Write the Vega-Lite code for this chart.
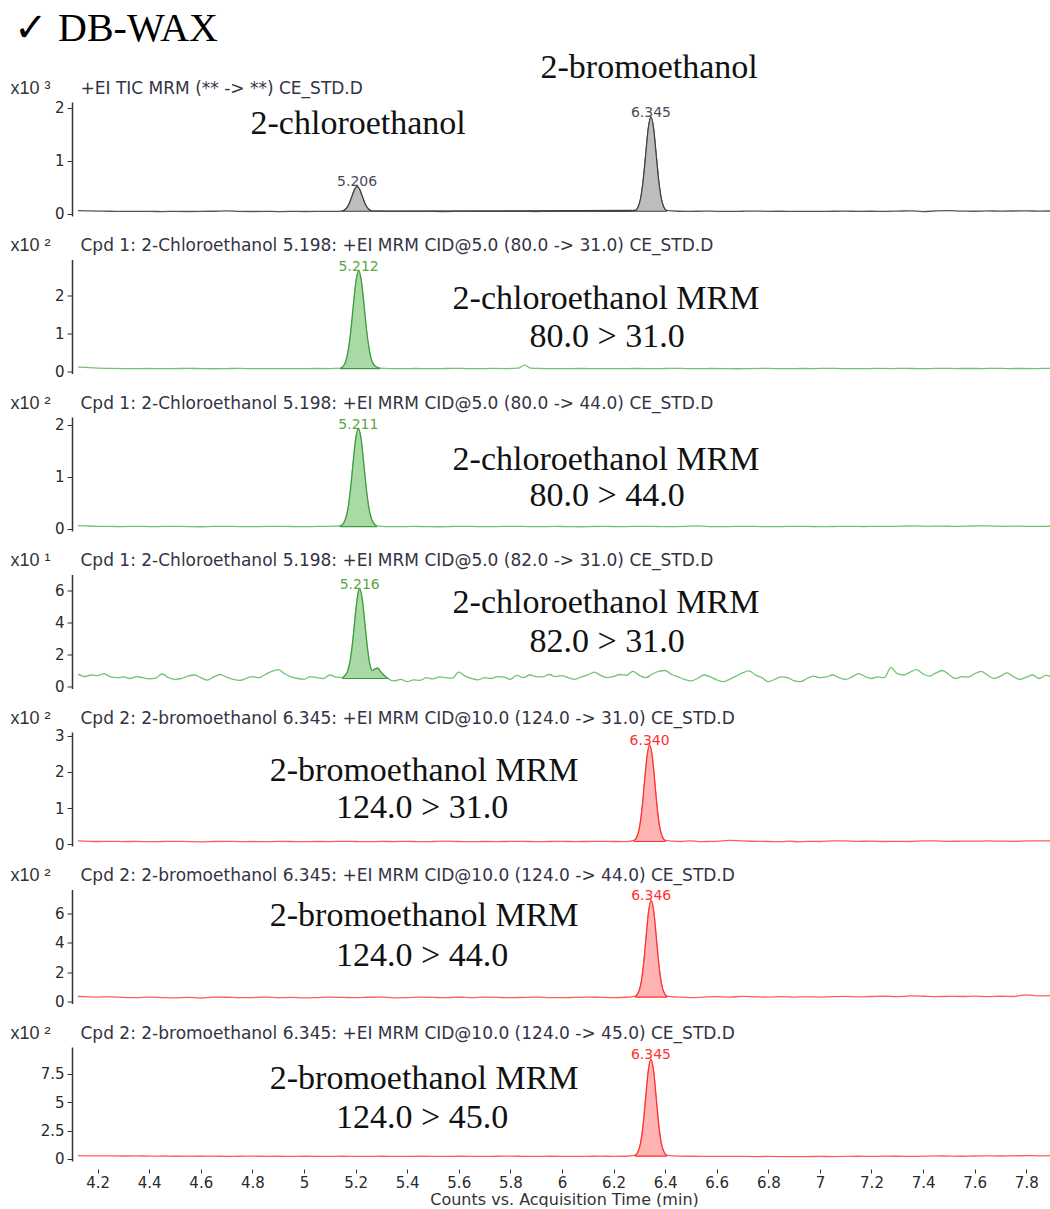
{
"$schema": "https://vega.github.io/schema/vega-lite/v6.json",
"padding": {"left": 10, "top": 8, "right": 0, "bottom": 0},
"title": {"text": "✓ DB-WAX", "anchor": "start", "font": "Liberation Serif", "fontSize": 40, "fontWeight": "normal", "color": "#000000", "dx": 4, "offset": 2},
"config": {"view": {"stroke": null},
 "axis": {"grid": false, "labelFont": "DejaVu Sans", "titleFont": "DejaVu Sans", "labelColor": "#2a2a2a", "titleColor": "#333333", "domainColor": "#333333", "tickColor": "#333333"},
 "axisLeft": {"titleAngle": 0, "titleX": -62, "titleY": -14, "titleAlign": "left", "titleBaseline": "middle", "titleFont": "Liberation Sans", "titleFontSize": 18, "titleFontWeight": "normal", "labelFontSize": 15, "offset": 6, "tickSize": 5, "domainWidth": 1.5, "labelPadding": 3},
 "axisTop": {"labels": false, "ticks": false, "domain": false, "titleX": 2, "titleY": -14, "titleAlign": "left", "titleBaseline": "middle", "titleFontSize": 17, "titleFontWeight": "normal", "titleColor": "#333344"},
 "axisBottom": {"offset": 8, "domain": false, "tickSize": 4, "labelFontSize": 15, "labelPadding": 2, "titleFontSize": 16, "titleFontWeight": "normal", "titlePadding": 1}
},
"spacing": 43.5,
"bounds": "flush",
"datasets": {
"s1": [{"t":4.10,"v":0.062},{"t":4.15,"v":0.058},{"t":4.20,"v":0.052},{"t":4.25,"v":0.05},{"t":4.30,"v":0.047},{"t":4.35,"v":0.049},{"t":4.40,"v":0.046},{"t":4.45,"v":0.044},{"t":4.50,"v":0.047},{"t":4.55,"v":0.045},{"t":4.60,"v":0.046},{"t":4.65,"v":0.05},{"t":4.70,"v":0.058},{"t":4.75,"v":0.048},{"t":4.80,"v":0.045},{"t":4.85,"v":0.047},{"t":4.90,"v":0.044},{"t":4.95,"v":0.046},{"t":5.00,"v":0.045},{"t":5.05,"v":0.047},{"t":5.10,"v":0.048},
{"t":5.146,"v":0.052,"f":1},{"t":5.156,"v":0.07,"f":1},{"t":5.166,"v":0.112,"f":1},{"t":5.176,"v":0.2,"f":1},{"t":5.186,"v":0.33,"f":1},{"t":5.196,"v":0.46,"f":1},{"t":5.206,"v":0.52,"f":1},{"t":5.216,"v":0.46,"f":1},{"t":5.226,"v":0.33,"f":1},{"t":5.236,"v":0.2,"f":1},{"t":5.246,"v":0.112,"f":1},{"t":5.256,"v":0.07,"f":1},{"t":5.266,"v":0.052,"f":1},
{"t":5.30,"v":0.05},{"t":5.35,"v":0.048},{"t":5.40,"v":0.046},{"t":5.45,"v":0.049},{"t":5.50,"v":0.046},{"t":5.55,"v":0.044},{"t":5.60,"v":0.047},{"t":5.65,"v":0.049},{"t":5.70,"v":0.046},{"t":5.75,"v":0.048},{"t":5.80,"v":0.05},{"t":5.85,"v":0.047},{"t":5.90,"v":0.045},{"t":5.95,"v":0.048},{"t":6.00,"v":0.046},{"t":6.05,"v":0.047},{"t":6.10,"v":0.049},{"t":6.15,"v":0.046},{"t":6.20,"v":0.048},{"t":6.25,"v":0.05},
{"t":6.285,"v":0.065,"f":1},{"t":6.295,"v":0.125,"f":1},{"t":6.305,"v":0.29,"f":1},{"t":6.315,"v":0.63,"f":1},{"t":6.325,"v":1.13,"f":1},{"t":6.335,"v":1.62,"f":1},{"t":6.345,"v":1.83,"f":1},{"t":6.355,"v":1.62,"f":1},{"t":6.365,"v":1.13,"f":1},{"t":6.375,"v":0.63,"f":1},{"t":6.385,"v":0.29,"f":1},{"t":6.395,"v":0.125,"f":1},{"t":6.405,"v":0.065,"f":1},
{"t":6.45,"v":0.05},{"t":6.50,"v":0.047},{"t":6.55,"v":0.052},{"t":6.60,"v":0.049},{"t":6.65,"v":0.046},{"t":6.70,"v":0.05},{"t":6.75,"v":0.053},{"t":6.80,"v":0.048},{"t":6.85,"v":0.05},{"t":6.90,"v":0.046},{"t":6.95,"v":0.049},{"t":7.00,"v":0.047},{"t":7.05,"v":0.05},{"t":7.10,"v":0.052},{"t":7.15,"v":0.048},{"t":7.20,"v":0.05},{"t":7.25,"v":0.047},{"t":7.30,"v":0.052},{"t":7.35,"v":0.058},{"t":7.40,"v":0.044},{"t":7.45,"v":0.055},{"t":7.50,"v":0.06},{"t":7.55,"v":0.052},{"t":7.60,"v":0.05},{"t":7.65,"v":0.056},{"t":7.70,"v":0.052},{"t":7.75,"v":0.054},{"t":7.80,"v":0.056},{"t":7.85,"v":0.052},{"t":7.90,"v":0.055}],
"s2": [{"t":4.10,"v":0.13},{"t":4.15,"v":0.11},{"t":4.20,"v":0.09},{"t":4.25,"v":0.085},{"t":4.30,"v":0.08},{"t":4.35,"v":0.078},{"t":4.40,"v":0.082},{"t":4.45,"v":0.076},{"t":4.50,"v":0.08},{"t":4.55,"v":0.085},{"t":4.60,"v":0.078},{"t":4.65,"v":0.075},{"t":4.70,"v":0.08},{"t":4.75,"v":0.083},{"t":4.80,"v":0.078},{"t":4.85,"v":0.08},{"t":4.90,"v":0.076},{"t":4.95,"v":0.08},{"t":5.00,"v":0.078},{"t":5.05,"v":0.082},{"t":5.10,"v":0.08},
{"t":5.142,"v":0.09,"f":1},{"t":5.152,"v":0.14,"f":1},{"t":5.162,"v":0.27,"f":1},{"t":5.172,"v":0.57,"f":1},{"t":5.182,"v":1.09,"f":1},{"t":5.192,"v":1.78,"f":1},{"t":5.202,"v":2.39,"f":1},{"t":5.212,"v":2.65,"f":1},{"t":5.222,"v":2.4,"f":1},{"t":5.232,"v":1.8,"f":1},{"t":5.242,"v":1.12,"f":1},{"t":5.252,"v":0.62,"f":1},{"t":5.262,"v":0.3,"f":1},{"t":5.272,"v":0.17,"f":1},{"t":5.282,"v":0.12,"f":1},{"t":5.292,"v":0.09,"f":1},
{"t":5.33,"v":0.08},{"t":5.38,"v":0.078},{"t":5.43,"v":0.082},{"t":5.48,"v":0.076},{"t":5.53,"v":0.08},{"t":5.58,"v":0.085},{"t":5.63,"v":0.08},{"t":5.68,"v":0.078},{"t":5.73,"v":0.083},{"t":5.78,"v":0.08},{"t":5.83,"v":0.09},{"t":5.855,"v":0.17},{"t":5.88,"v":0.09},{"t":5.93,"v":0.08},{"t":5.98,"v":0.076},{"t":6.03,"v":0.08},{"t":6.08,"v":0.082},{"t":6.13,"v":0.078},{"t":6.18,"v":0.08},{"t":6.23,"v":0.076},{"t":6.28,"v":0.082},{"t":6.33,"v":0.08},{"t":6.38,"v":0.078},{"t":6.43,"v":0.085},{"t":6.48,"v":0.08},{"t":6.53,"v":0.077},{"t":6.58,"v":0.082},{"t":6.63,"v":0.08},{"t":6.68,"v":0.075},{"t":6.73,"v":0.08},{"t":6.78,"v":0.083},{"t":6.83,"v":0.08},{"t":6.88,"v":0.078},{"t":6.93,"v":0.082},{"t":6.98,"v":0.08},{"t":7.03,"v":0.085},{"t":7.08,"v":0.08},{"t":7.13,"v":0.078},{"t":7.18,"v":0.08},{"t":7.23,"v":0.083},{"t":7.28,"v":0.08},{"t":7.33,"v":0.085},{"t":7.38,"v":0.078},{"t":7.43,"v":0.08},{"t":7.48,"v":0.086},{"t":7.53,"v":0.08},{"t":7.58,"v":0.082},{"t":7.63,"v":0.08},{"t":7.68,"v":0.085},{"t":7.73,"v":0.08},{"t":7.78,"v":0.082},{"t":7.83,"v":0.08},{"t":7.88,"v":0.083},{"t":7.92,"v":0.08}],
"s3": [{"t":4.10,"v":0.07},{"t":4.15,"v":0.06},{"t":4.20,"v":0.05},{"t":4.25,"v":0.048},{"t":4.30,"v":0.045},{"t":4.35,"v":0.05},{"t":4.40,"v":0.044},{"t":4.45,"v":0.047},{"t":4.50,"v":0.05},{"t":4.55,"v":0.045},{"t":4.60,"v":0.042},{"t":4.65,"v":0.048},{"t":4.70,"v":0.05},{"t":4.75,"v":0.045},{"t":4.80,"v":0.043},{"t":4.85,"v":0.048},{"t":4.90,"v":0.05},{"t":4.95,"v":0.046},{"t":5.00,"v":0.044},{"t":5.05,"v":0.047},{"t":5.10,"v":0.05},
{"t":5.141,"v":0.06,"f":1},{"t":5.151,"v":0.09,"f":1},{"t":5.161,"v":0.19,"f":1},{"t":5.171,"v":0.4,"f":1},{"t":5.181,"v":0.79,"f":1},{"t":5.191,"v":1.29,"f":1},{"t":5.201,"v":1.74,"f":1},{"t":5.211,"v":1.92,"f":1},{"t":5.221,"v":1.74,"f":1},{"t":5.231,"v":1.29,"f":1},{"t":5.241,"v":0.8,"f":1},{"t":5.251,"v":0.42,"f":1},{"t":5.261,"v":0.2,"f":1},{"t":5.271,"v":0.1,"f":1},{"t":5.281,"v":0.06,"f":1},
{"t":5.32,"v":0.045},{"t":5.37,"v":0.043},{"t":5.42,"v":0.048},{"t":5.47,"v":0.045},{"t":5.52,"v":0.042},{"t":5.57,"v":0.046},{"t":5.62,"v":0.05},{"t":5.67,"v":0.045},{"t":5.72,"v":0.043},{"t":5.77,"v":0.047},{"t":5.82,"v":0.05},{"t":5.87,"v":0.045},{"t":5.92,"v":0.043},{"t":5.97,"v":0.048},{"t":6.02,"v":0.045},{"t":6.07,"v":0.042},{"t":6.12,"v":0.046},{"t":6.17,"v":0.048},{"t":6.22,"v":0.044},{"t":6.27,"v":0.047},{"t":6.32,"v":0.05},{"t":6.37,"v":0.046},{"t":6.42,"v":0.043},{"t":6.47,"v":0.048},{"t":6.52,"v":0.06},{"t":6.57,"v":0.045},{"t":6.62,"v":0.043},{"t":6.67,"v":0.047},{"t":6.72,"v":0.05},{"t":6.77,"v":0.045},{"t":6.82,"v":0.043},{"t":6.87,"v":0.048},{"t":6.92,"v":0.05},{"t":6.97,"v":0.046},{"t":7.02,"v":0.044},{"t":7.07,"v":0.048},{"t":7.12,"v":0.05},{"t":7.17,"v":0.046},{"t":7.22,"v":0.05},{"t":7.27,"v":0.048},{"t":7.32,"v":0.052},{"t":7.37,"v":0.06},{"t":7.42,"v":0.05},{"t":7.47,"v":0.055},{"t":7.52,"v":0.048},{"t":7.57,"v":0.052},{"t":7.62,"v":0.06},{"t":7.67,"v":0.055},{"t":7.72,"v":0.05},{"t":7.77,"v":0.052},{"t":7.82,"v":0.048},{"t":7.87,"v":0.05},{"t":7.92,"v":0.052}],
"s4": [{"t":4.100,"v":0.7},{"t":4.125,"v":0.75},{"t":4.150,"v":0.62},{"t":4.175,"v":0.72},{"t":4.200,"v":0.68},{"t":4.225,"v":0.8},{"t":4.250,"v":0.6},{"t":4.275,"v":0.55},{"t":4.300,"v":0.6},{"t":4.325,"v":0.5},{"t":4.350,"v":0.62},{"t":4.375,"v":0.55},{"t":4.400,"v":0.48},{"t":4.425,"v":0.52},{"t":4.450,"v":0.78},{"t":4.475,"v":0.55},{"t":4.500,"v":0.45},{"t":4.525,"v":0.5},{"t":4.550,"v":0.65},{"t":4.575,"v":0.72},{"t":4.600,"v":0.55},{"t":4.625,"v":0.4},{"t":4.650,"v":0.6},{"t":4.675,"v":0.75},{"t":4.700,"v":0.58},{"t":4.725,"v":0.45},{"t":4.750,"v":0.38},{"t":4.775,"v":0.5},{"t":4.800,"v":0.62},{"t":4.825,"v":0.55},{"t":4.850,"v":0.75},{"t":4.875,"v":0.95},{"t":4.900,"v":1.05},{"t":4.925,"v":0.8},{"t":4.950,"v":0.6},{"t":4.975,"v":0.5},{"t":5.000,"v":0.45},{"t":5.025,"v":0.62},{"t":5.050,"v":0.55},{"t":5.075,"v":0.5},{"t":5.100,"v":0.72},{"t":5.125,"v":0.58},
{"t":5.150,"v":0.55,"f":1},{"t":5.160,"v":0.71,"f":1},{"t":5.170,"v":0.99,"f":1},{"t":5.180,"v":1.69,"f":1},{"t":5.190,"v":2.96,"f":1},{"t":5.200,"v":4.59,"f":1},{"t":5.210,"v":5.86,"f":1},{"t":5.216,"v":6.1,"f":1},{"t":5.226,"v":5.45,"f":1},{"t":5.236,"v":3.94,"f":1},{"t":5.246,"v":2.39,"f":1},{"t":5.256,"v":1.34,"f":1},{"t":5.266,"v":1.0,"f":1},{"t":5.276,"v":1.1,"f":1},{"t":5.286,"v":1.15,"f":1},{"t":5.296,"v":0.95,"f":1},{"t":5.310,"v":0.7,"f":1},{"t":5.325,"v":0.5,"f":1},
{"t":5.350,"v":0.35},{"t":5.375,"v":0.45},{"t":5.400,"v":0.3},{"t":5.425,"v":0.42},{"t":5.450,"v":0.38},{"t":5.475,"v":0.55},{"t":5.500,"v":0.48},{"t":5.525,"v":0.6},{"t":5.550,"v":0.55},{"t":5.575,"v":0.52},{"t":5.600,"v":0.9},{"t":5.625,"v":0.65},{"t":5.650,"v":0.5},{"t":5.675,"v":0.42},{"t":5.700,"v":0.55},{"t":5.725,"v":0.5},{"t":5.750,"v":0.62},{"t":5.775,"v":0.58},{"t":5.800,"v":0.45},{"t":5.825,"v":0.7},{"t":5.850,"v":0.55},{"t":5.875,"v":0.72},{"t":5.900,"v":0.62},{"t":5.925,"v":0.6},{"t":5.950,"v":0.75},{"t":5.975,"v":0.62},{"t":6.000,"v":0.68},{"t":6.025,"v":0.55},{"t":6.050,"v":0.45},{"t":6.075,"v":0.6},{"t":6.100,"v":0.72},{"t":6.125,"v":0.9},{"t":6.150,"v":0.7},{"t":6.175,"v":0.55},{"t":6.200,"v":0.62},{"t":6.225,"v":0.75},{"t":6.250,"v":0.7},{"t":6.275,"v":0.95},{"t":6.300,"v":0.7},{"t":6.325,"v":0.55},{"t":6.350,"v":0.78},{"t":6.375,"v":0.95},{"t":6.400,"v":1.0},{"t":6.425,"v":0.75},{"t":6.450,"v":0.6},{"t":6.475,"v":0.45},{"t":6.500,"v":0.35},{"t":6.525,"v":0.5},{"t":6.550,"v":0.72},{"t":6.575,"v":0.6},{"t":6.600,"v":0.42},{"t":6.625,"v":0.3},{"t":6.650,"v":0.45},{"t":6.675,"v":0.65},{"t":6.700,"v":0.85},{"t":6.725,"v":0.98},{"t":6.750,"v":0.72},{"t":6.775,"v":0.55},{"t":6.800,"v":0.3},{"t":6.825,"v":0.45},{"t":6.850,"v":0.6},{"t":6.875,"v":0.55},{"t":6.900,"v":0.35},{"t":6.925,"v":0.3},{"t":6.950,"v":0.5},{"t":6.975,"v":0.65},{"t":7.000,"v":0.55},{"t":7.025,"v":0.6},{"t":7.050,"v":0.72},{"t":7.075,"v":0.55},{"t":7.100,"v":0.45},{"t":7.125,"v":0.6},{"t":7.150,"v":0.8},{"t":7.175,"v":0.62},{"t":7.200,"v":0.5},{"t":7.225,"v":0.6},{"t":7.250,"v":0.55},{"t":7.275,"v":1.2},{"t":7.300,"v":0.8},{"t":7.325,"v":0.72},{"t":7.350,"v":0.9},{"t":7.375,"v":1.05},{"t":7.400,"v":0.78},{"t":7.425,"v":0.65},{"t":7.450,"v":0.85},{"t":7.475,"v":1.0},{"t":7.500,"v":0.75},{"t":7.525,"v":0.5},{"t":7.550,"v":0.62},{"t":7.575,"v":0.58},{"t":7.600,"v":0.8},{"t":7.625,"v":0.95},{"t":7.650,"v":0.7},{"t":7.675,"v":0.5},{"t":7.700,"v":0.65},{"t":7.725,"v":0.85},{"t":7.750,"v":0.62},{"t":7.775,"v":0.45},{"t":7.800,"v":0.58},{"t":7.825,"v":0.72},{"t":7.850,"v":0.5},{"t":7.875,"v":0.7},{"t":7.900,"v":0.62}],
"s5": [{"t":4.10,"v":0.09},{"t":4.15,"v":0.08},{"t":4.20,"v":0.07},{"t":4.25,"v":0.075},{"t":4.30,"v":0.068},{"t":4.35,"v":0.072},{"t":4.40,"v":0.065},{"t":4.45,"v":0.07},{"t":4.50,"v":0.075},{"t":4.55,"v":0.068},{"t":4.60,"v":0.062},{"t":4.65,"v":0.07},{"t":4.70,"v":0.074},{"t":4.75,"v":0.068},{"t":4.80,"v":0.07},{"t":4.85,"v":0.065},{"t":4.90,"v":0.072},{"t":4.95,"v":0.07},{"t":5.00,"v":0.066},{"t":5.05,"v":0.07},{"t":5.10,"v":0.068},{"t":5.15,"v":0.075},{"t":5.20,"v":0.07},{"t":5.25,"v":0.066},{"t":5.30,"v":0.072},{"t":5.35,"v":0.068},{"t":5.40,"v":0.075},{"t":5.45,"v":0.065},{"t":5.50,"v":0.07},{"t":5.55,"v":0.078},{"t":5.60,"v":0.07},{"t":5.65,"v":0.065},{"t":5.70,"v":0.07},{"t":5.75,"v":0.068},{"t":5.80,"v":0.072},{"t":5.85,"v":0.075},{"t":5.90,"v":0.066},{"t":5.95,"v":0.07},{"t":6.00,"v":0.072},{"t":6.05,"v":0.068},{"t":6.10,"v":0.07},{"t":6.15,"v":0.075},{"t":6.20,"v":0.07},{"t":6.25,"v":0.068},
{"t":6.28,"v":0.1,"f":1},{"t":6.29,"v":0.19,"f":1},{"t":6.30,"v":0.43,"f":1},{"t":6.31,"v":0.94,"f":1},{"t":6.32,"v":1.7,"f":1},{"t":6.33,"v":2.43,"f":1},{"t":6.34,"v":2.75,"f":1},{"t":6.35,"v":2.43,"f":1},{"t":6.36,"v":1.7,"f":1},{"t":6.37,"v":0.94,"f":1},{"t":6.38,"v":0.43,"f":1},{"t":6.39,"v":0.19,"f":1},{"t":6.40,"v":0.1,"f":1},
{"t":6.43,"v":0.08},{"t":6.46,"v":0.07},{"t":6.50,"v":0.09},{"t":6.53,"v":0.065},{"t":6.56,"v":0.07},{"t":6.60,"v":0.075},{"t":6.65,"v":0.1},{"t":6.70,"v":0.085},{"t":6.75,"v":0.075},{"t":6.80,"v":0.07},{"t":6.85,"v":0.065},{"t":6.88,"v":0.08},{"t":6.92,"v":0.06},{"t":6.95,"v":0.075},{"t":7.00,"v":0.07},{"t":7.05,"v":0.09},{"t":7.10,"v":0.085},{"t":7.15,"v":0.075},{"t":7.20,"v":0.08},{"t":7.25,"v":0.07},{"t":7.30,"v":0.075},{"t":7.35,"v":0.07},{"t":7.40,"v":0.09},{"t":7.45,"v":0.085},{"t":7.50,"v":0.075},{"t":7.55,"v":0.08},{"t":7.60,"v":0.078},{"t":7.65,"v":0.085},{"t":7.70,"v":0.08},{"t":7.75,"v":0.075},{"t":7.80,"v":0.085},{"t":7.85,"v":0.09},{"t":7.90,"v":0.085}],
"s6": [{"t":4.10,"v":0.35},{"t":4.15,"v":0.33},{"t":4.20,"v":0.3},{"t":4.25,"v":0.32},{"t":4.30,"v":0.28},{"t":4.35,"v":0.26},{"t":4.40,"v":0.3},{"t":4.45,"v":0.27},{"t":4.50,"v":0.25},{"t":4.55,"v":0.28},{"t":4.60,"v":0.24},{"t":4.65,"v":0.3},{"t":4.70,"v":0.29},{"t":4.75,"v":0.26},{"t":4.80,"v":0.27},{"t":4.85,"v":0.3},{"t":4.90,"v":0.26},{"t":4.95,"v":0.28},{"t":5.00,"v":0.25},{"t":5.05,"v":0.27},{"t":5.10,"v":0.3},{"t":5.15,"v":0.28},{"t":5.20,"v":0.26},{"t":5.25,"v":0.29},{"t":5.30,"v":0.3},{"t":5.35,"v":0.25},{"t":5.40,"v":0.27},{"t":5.45,"v":0.3},{"t":5.50,"v":0.28},{"t":5.55,"v":0.26},{"t":5.60,"v":0.29},{"t":5.65,"v":0.27},{"t":5.70,"v":0.3},{"t":5.75,"v":0.28},{"t":5.80,"v":0.26},{"t":5.85,"v":0.28},{"t":5.90,"v":0.3},{"t":5.95,"v":0.27},{"t":6.00,"v":0.26},{"t":6.05,"v":0.28},{"t":6.10,"v":0.3},{"t":6.15,"v":0.28},{"t":6.20,"v":0.27},{"t":6.25,"v":0.29},
{"t":6.286,"v":0.37,"f":1},{"t":6.296,"v":0.59,"f":1},{"t":6.306,"v":1.19,"f":1},{"t":6.316,"v":2.45,"f":1},{"t":6.326,"v":4.3,"f":1},{"t":6.336,"v":6.12,"f":1},{"t":6.346,"v":6.9,"f":1},{"t":6.356,"v":6.12,"f":1},{"t":6.366,"v":4.3,"f":1},{"t":6.376,"v":2.45,"f":1},{"t":6.386,"v":1.19,"f":1},{"t":6.396,"v":0.59,"f":1},{"t":6.406,"v":0.37,"f":1},
{"t":6.45,"v":0.3},{"t":6.50,"v":0.27},{"t":6.55,"v":0.3},{"t":6.60,"v":0.33},{"t":6.65,"v":0.3},{"t":6.70,"v":0.35},{"t":6.75,"v":0.32},{"t":6.80,"v":0.3},{"t":6.85,"v":0.33},{"t":6.90,"v":0.3},{"t":6.95,"v":0.32},{"t":7.00,"v":0.3},{"t":7.05,"v":0.33},{"t":7.10,"v":0.35},{"t":7.15,"v":0.32},{"t":7.20,"v":0.34},{"t":7.25,"v":0.36},{"t":7.30,"v":0.33},{"t":7.35,"v":0.38},{"t":7.40,"v":0.36},{"t":7.45,"v":0.33},{"t":7.50,"v":0.35},{"t":7.55,"v":0.34},{"t":7.60,"v":0.37},{"t":7.65,"v":0.33},{"t":7.70,"v":0.36},{"t":7.75,"v":0.34},{"t":7.80,"v":0.45},{"t":7.85,"v":0.38},{"t":7.90,"v":0.4}],
"s7": [{"t":4.10,"v":0.3},{"t":4.15,"v":0.28},{"t":4.20,"v":0.27},{"t":4.25,"v":0.28},{"t":4.30,"v":0.26},{"t":4.35,"v":0.27},{"t":4.40,"v":0.25},{"t":4.45,"v":0.26},{"t":4.50,"v":0.24},{"t":4.55,"v":0.25},{"t":4.60,"v":0.24},{"t":4.65,"v":0.25},{"t":4.70,"v":0.23},{"t":4.75,"v":0.24},{"t":4.80,"v":0.25},{"t":4.85,"v":0.23},{"t":4.90,"v":0.24},{"t":4.95,"v":0.22},{"t":5.00,"v":0.24},{"t":5.05,"v":0.23},{"t":5.10,"v":0.22},{"t":5.15,"v":0.24},{"t":5.20,"v":0.23},{"t":5.25,"v":0.22},{"t":5.30,"v":0.24},{"t":5.35,"v":0.23},{"t":5.40,"v":0.22},{"t":5.45,"v":0.24},{"t":5.50,"v":0.23},{"t":5.55,"v":0.22},{"t":5.60,"v":0.24},{"t":5.65,"v":0.23},{"t":5.70,"v":0.22},{"t":5.75,"v":0.24},{"t":5.80,"v":0.25},{"t":5.85,"v":0.23},{"t":5.90,"v":0.22},{"t":5.95,"v":0.24},{"t":6.00,"v":0.23},{"t":6.05,"v":0.22},{"t":6.10,"v":0.23},{"t":6.15,"v":0.25},{"t":6.20,"v":0.23},{"t":6.25,"v":0.24},
{"t":6.285,"v":0.34,"f":1},{"t":6.295,"v":0.63,"f":1},{"t":6.305,"v":1.4,"f":1},{"t":6.315,"v":3.03,"f":1},{"t":6.325,"v":5.44,"f":1},{"t":6.335,"v":7.79,"f":1},{"t":6.345,"v":8.8,"f":1},{"t":6.355,"v":7.79,"f":1},{"t":6.365,"v":5.44,"f":1},{"t":6.375,"v":3.03,"f":1},{"t":6.385,"v":1.4,"f":1},{"t":6.395,"v":0.63,"f":1},{"t":6.405,"v":0.34,"f":1},
{"t":6.45,"v":0.25},{"t":6.50,"v":0.24},{"t":6.55,"v":0.23},{"t":6.60,"v":0.22},{"t":6.65,"v":0.23},{"t":6.70,"v":0.22},{"t":6.75,"v":0.21},{"t":6.80,"v":0.22},{"t":6.85,"v":0.21},{"t":6.90,"v":0.2},{"t":6.95,"v":0.21},{"t":7.00,"v":0.22},{"t":7.05,"v":0.21},{"t":7.10,"v":0.22},{"t":7.15,"v":0.24},{"t":7.20,"v":0.22},{"t":7.25,"v":0.25},{"t":7.30,"v":0.24},{"t":7.35,"v":0.22},{"t":7.40,"v":0.25},{"t":7.45,"v":0.27},{"t":7.50,"v":0.25},{"t":7.55,"v":0.24},{"t":7.60,"v":0.26},{"t":7.65,"v":0.28},{"t":7.70,"v":0.26},{"t":7.75,"v":0.27},{"t":7.80,"v":0.3},{"t":7.85,"v":0.28},{"t":7.90,"v":0.3}],
"pl": [{"p":1,"t":5.206,"v":0.52,"label":"5.206"},{"p":1,"t":6.345,"v":1.83,"label":"6.345"},{"p":2,"t":5.212,"v":2.65,"label":"5.212"},{"p":3,"t":5.211,"v":1.92,"label":"5.211"},{"p":4,"t":5.216,"v":6.1,"label":"5.216"},{"p":5,"t":6.34,"v":2.75,"label":"6.340"},{"p":6,"t":6.346,"v":6.9,"label":"6.346"},{"p":7,"t":6.345,"v":8.8,"label":"6.345"}],
"ann": [{"p":1,"t":6.338,"v":2.755,"label":"2-bromoethanol"},{"p":1,"t":5.21,"v":1.7,"label":"2-chloroethanol"},
{"p":2,"t":6.171,"v":1.92,"label":"2-chloroethanol MRM"},{"p":2,"t":6.175,"v":0.92,"label":"80.0 > 31.0"},
{"p":3,"t":6.171,"v":1.33,"label":"2-chloroethanol MRM"},{"p":3,"t":6.175,"v":0.63,"label":"80.0 > 44.0"},
{"p":4,"t":6.171,"v":5.25,"label":"2-chloroethanol MRM"},{"p":4,"t":6.175,"v":2.81,"label":"82.0 > 31.0"},
{"p":5,"t":5.466,"v":2.03,"label":"2-bromoethanol MRM"},{"p":5,"t":5.458,"v":1.0,"label":"124.0 > 31.0"},
{"p":6,"t":5.466,"v":5.86,"label":"2-bromoethanol MRM"},{"p":6,"t":5.458,"v":3.07,"label":"124.0 > 44.0"},
{"p":7,"t":5.466,"v":7.06,"label":"2-bromoethanol MRM"},{"p":7,"t":5.458,"v":3.62,"label":"124.0 > 45.0"}]
},
"vconcat": [
{"width":972,"height":114,"resolve":{"axis":{"x":"independent","y":"independent"}},"layer":[
 {"data":{"name":"s1"},"mark":{"type":"line","color":"#555555","strokeWidth":1.3,"interpolate":"monotone","clip":true},
  "encoding":{"x":{"field":"t","type":"quantitative","scale":{"domain":[4.124,7.892],"nice":false,"zero":false},"axis":null},
   "y":{"field":"v","type":"quantitative","scale":{"domain":[-0.04,2.11],"nice":false,"zero":false},"axis":{"title":"x10 ³","values":[0,1,2],"format":"~g"}}}},
 {"data":{"name":"s1"},"transform":[{"filter":"datum.f==1"}],"mark":{"type":"area","fill":"#bdbdbd","stroke":"#404040","strokeWidth":1.2,"interpolate":"monotone","clip":true},
  "encoding":{"x":{"field":"t","type":"quantitative","scale":{"domain":[4.124,7.892],"nice":false,"zero":false},"axis":null},
   "y":{"field":"v","type":"quantitative","scale":{"domain":[-0.04,2.11],"nice":false,"zero":false},"axis":null},"y2":{"datum":0.05}}},
 {"data":{"name":"pl"},"transform":[{"filter":"datum.p==1"}],"mark":{"type":"text","font":"DejaVu Sans","fontSize":14,"color":"#4a4a5a","baseline":"bottom","dy":3},
  "encoding":{"x":{"field":"t","type":"quantitative","scale":{"domain":[4.124,7.892],"nice":false,"zero":false},"axis":null},
   "y":{"field":"v","type":"quantitative","scale":{"domain":[-0.04,2.11],"nice":false,"zero":false},"axis":null},"text":{"field":"label"}}},
 {"data":{"name":"ann"},"transform":[{"filter":"datum.p==1"}],"mark":{"type":"text","font":"Liberation Serif","fontSize":34,"color":"#111111"},
  "encoding":{"x":{"field":"t","type":"quantitative","scale":{"domain":[4.124,7.892],"nice":false,"zero":false},"axis":{"orient":"top","title":"+EI TIC MRM (** -> **) CE_STD.D"}},
   "y":{"field":"v","type":"quantitative","scale":{"domain":[-0.04,2.11],"nice":false,"zero":false},"axis":null},"text":{"field":"label"}}}
]},
{"width":972,"height":114,"resolve":{"axis":{"x":"independent","y":"independent"}},"layer":[
 {"data":{"name":"s2"},"mark":{"type":"line","color":"#72c472","strokeWidth":1.3,"interpolate":"monotone","clip":true},
  "encoding":{"x":{"field":"t","type":"quantitative","scale":{"domain":[4.124,7.892],"nice":false,"zero":false},"axis":null},
   "y":{"field":"v","type":"quantitative","scale":{"domain":[-0.05,2.95],"nice":false,"zero":false},"axis":{"title":"x10 ²","values":[0,1,2],"format":"~g"}}}},
 {"data":{"name":"s2"},"transform":[{"filter":"datum.f==1"}],"mark":{"type":"area","fill":"#a9d9a4","stroke":"#3c9a3c","strokeWidth":1.2,"interpolate":"monotone","clip":true},
  "encoding":{"x":{"field":"t","type":"quantitative","scale":{"domain":[4.124,7.892],"nice":false,"zero":false},"axis":null},
   "y":{"field":"v","type":"quantitative","scale":{"domain":[-0.05,2.95],"nice":false,"zero":false},"axis":null},"y2":{"datum":0.08}}},
 {"data":{"name":"pl"},"transform":[{"filter":"datum.p==2"}],"mark":{"type":"text","font":"DejaVu Sans","fontSize":14,"color":"#5aa83a","baseline":"bottom","dy":3},
  "encoding":{"x":{"field":"t","type":"quantitative","scale":{"domain":[4.124,7.892],"nice":false,"zero":false},"axis":null},
   "y":{"field":"v","type":"quantitative","scale":{"domain":[-0.05,2.95],"nice":false,"zero":false},"axis":null},"text":{"field":"label"}}},
 {"data":{"name":"ann"},"transform":[{"filter":"datum.p==2"}],"mark":{"type":"text","font":"Liberation Serif","fontSize":34,"color":"#111111"},
  "encoding":{"x":{"field":"t","type":"quantitative","scale":{"domain":[4.124,7.892],"nice":false,"zero":false},"axis":{"orient":"top","title":"Cpd 1: 2-Chloroethanol 5.198: +EI MRM CID@5.0 (80.0 -> 31.0) CE_STD.D"}},
   "y":{"field":"v","type":"quantitative","scale":{"domain":[-0.05,2.95],"nice":false,"zero":false},"axis":null},"text":{"field":"label"}}}
]},
{"width":972,"height":114,"resolve":{"axis":{"x":"independent","y":"independent"}},"layer":[
 {"data":{"name":"s3"},"mark":{"type":"line","color":"#72c472","strokeWidth":1.3,"interpolate":"monotone","clip":true},
  "encoding":{"x":{"field":"t","type":"quantitative","scale":{"domain":[4.124,7.892],"nice":false,"zero":false},"axis":null},
   "y":{"field":"v","type":"quantitative","scale":{"domain":[-0.04,2.15],"nice":false,"zero":false},"axis":{"title":"x10 ²","values":[0,1,2],"format":"~g"}}}},
 {"data":{"name":"s3"},"transform":[{"filter":"datum.f==1"}],"mark":{"type":"area","fill":"#a9d9a4","stroke":"#3c9a3c","strokeWidth":1.2,"interpolate":"monotone","clip":true},
  "encoding":{"x":{"field":"t","type":"quantitative","scale":{"domain":[4.124,7.892],"nice":false,"zero":false},"axis":null},
   "y":{"field":"v","type":"quantitative","scale":{"domain":[-0.04,2.15],"nice":false,"zero":false},"axis":null},"y2":{"datum":0.045}}},
 {"data":{"name":"pl"},"transform":[{"filter":"datum.p==3"}],"mark":{"type":"text","font":"DejaVu Sans","fontSize":14,"color":"#5aa83a","baseline":"bottom","dy":3},
  "encoding":{"x":{"field":"t","type":"quantitative","scale":{"domain":[4.124,7.892],"nice":false,"zero":false},"axis":null},
   "y":{"field":"v","type":"quantitative","scale":{"domain":[-0.04,2.15],"nice":false,"zero":false},"axis":null},"text":{"field":"label"}}},
 {"data":{"name":"ann"},"transform":[{"filter":"datum.p==3"}],"mark":{"type":"text","font":"Liberation Serif","fontSize":34,"color":"#111111"},
  "encoding":{"x":{"field":"t","type":"quantitative","scale":{"domain":[4.124,7.892],"nice":false,"zero":false},"axis":{"orient":"top","title":"Cpd 1: 2-Chloroethanol 5.198: +EI MRM CID@5.0 (80.0 -> 44.0) CE_STD.D"}},
   "y":{"field":"v","type":"quantitative","scale":{"domain":[-0.04,2.15],"nice":false,"zero":false},"axis":null},"text":{"field":"label"}}}
]},
{"width":972,"height":114,"resolve":{"axis":{"x":"independent","y":"independent"}},"layer":[
 {"data":{"name":"s4"},"mark":{"type":"line","color":"#72c472","strokeWidth":1.3,"interpolate":"monotone","clip":true},
  "encoding":{"x":{"field":"t","type":"quantitative","scale":{"domain":[4.124,7.892],"nice":false,"zero":false},"axis":null},
   "y":{"field":"v","type":"quantitative","scale":{"domain":[-0.125,7.0],"nice":false,"zero":false},"axis":{"title":"x10 ¹","values":[0,2,4,6],"format":"~g"}}}},
 {"data":{"name":"s4"},"transform":[{"filter":"datum.f==1"}],"mark":{"type":"area","fill":"#a9d9a4","stroke":"#3c9a3c","strokeWidth":1.2,"interpolate":"monotone","clip":true},
  "encoding":{"x":{"field":"t","type":"quantitative","scale":{"domain":[4.124,7.892],"nice":false,"zero":false},"axis":null},
   "y":{"field":"v","type":"quantitative","scale":{"domain":[-0.125,7.0],"nice":false,"zero":false},"axis":null},"y2":{"datum":0.5}}},
 {"data":{"name":"pl"},"transform":[{"filter":"datum.p==4"}],"mark":{"type":"text","font":"DejaVu Sans","fontSize":14,"color":"#5aa83a","baseline":"bottom","dy":3},
  "encoding":{"x":{"field":"t","type":"quantitative","scale":{"domain":[4.124,7.892],"nice":false,"zero":false},"axis":null},
   "y":{"field":"v","type":"quantitative","scale":{"domain":[-0.125,7.0],"nice":false,"zero":false},"axis":null},"text":{"field":"label"}}},
 {"data":{"name":"ann"},"transform":[{"filter":"datum.p==4"}],"mark":{"type":"text","font":"Liberation Serif","fontSize":34,"color":"#111111"},
  "encoding":{"x":{"field":"t","type":"quantitative","scale":{"domain":[4.124,7.892],"nice":false,"zero":false},"axis":{"orient":"top","title":"Cpd 1: 2-Chloroethanol 5.198: +EI MRM CID@5.0 (82.0 -> 31.0) CE_STD.D"}},
   "y":{"field":"v","type":"quantitative","scale":{"domain":[-0.125,7.0],"nice":false,"zero":false},"axis":null},"text":{"field":"label"}}}
]},
{"width":972,"height":114,"resolve":{"axis":{"x":"independent","y":"independent"}},"layer":[
 {"data":{"name":"s5"},"mark":{"type":"line","color":"#ff5c5c","strokeWidth":1.3,"interpolate":"monotone","clip":true},
  "encoding":{"x":{"field":"t","type":"quantitative","scale":{"domain":[4.124,7.892],"nice":false,"zero":false},"axis":null},
   "y":{"field":"v","type":"quantitative","scale":{"domain":[-0.055,3.11],"nice":false,"zero":false},"axis":{"title":"x10 ²","values":[0,1,2,3],"format":"~g"}}}},
 {"data":{"name":"s5"},"transform":[{"filter":"datum.f==1"}],"mark":{"type":"area","fill":"#ffb3b3","stroke":"#ff3030","strokeWidth":1.2,"interpolate":"monotone","clip":true},
  "encoding":{"x":{"field":"t","type":"quantitative","scale":{"domain":[4.124,7.892],"nice":false,"zero":false},"axis":null},
   "y":{"field":"v","type":"quantitative","scale":{"domain":[-0.055,3.11],"nice":false,"zero":false},"axis":null},"y2":{"datum":0.07}}},
 {"data":{"name":"pl"},"transform":[{"filter":"datum.p==5"}],"mark":{"type":"text","font":"DejaVu Sans","fontSize":14,"color":"#ff3030","baseline":"bottom","dy":3},
  "encoding":{"x":{"field":"t","type":"quantitative","scale":{"domain":[4.124,7.892],"nice":false,"zero":false},"axis":null},
   "y":{"field":"v","type":"quantitative","scale":{"domain":[-0.055,3.11],"nice":false,"zero":false},"axis":null},"text":{"field":"label"}}},
 {"data":{"name":"ann"},"transform":[{"filter":"datum.p==5"}],"mark":{"type":"text","font":"Liberation Serif","fontSize":34,"color":"#111111"},
  "encoding":{"x":{"field":"t","type":"quantitative","scale":{"domain":[4.124,7.892],"nice":false,"zero":false},"axis":{"orient":"top","title":"Cpd 2: 2-bromoethanol 6.345: +EI MRM CID@10.0 (124.0 -> 31.0) CE_STD.D"}},
   "y":{"field":"v","type":"quantitative","scale":{"domain":[-0.055,3.11],"nice":false,"zero":false},"axis":null},"text":{"field":"label"}}}
]},
{"width":972,"height":114,"resolve":{"axis":{"x":"independent","y":"independent"}},"layer":[
 {"data":{"name":"s6"},"mark":{"type":"line","color":"#ff5c5c","strokeWidth":1.3,"interpolate":"monotone","clip":true},
  "encoding":{"x":{"field":"t","type":"quantitative","scale":{"domain":[4.124,7.892],"nice":false,"zero":false},"axis":null},
   "y":{"field":"v","type":"quantitative","scale":{"domain":[-0.136,7.64],"nice":false,"zero":false},"axis":{"title":"x10 ²","values":[0,2,4,6],"format":"~g"}}}},
 {"data":{"name":"s6"},"transform":[{"filter":"datum.f==1"}],"mark":{"type":"area","fill":"#ffb3b3","stroke":"#ff3030","strokeWidth":1.2,"interpolate":"monotone","clip":true},
  "encoding":{"x":{"field":"t","type":"quantitative","scale":{"domain":[4.124,7.892],"nice":false,"zero":false},"axis":null},
   "y":{"field":"v","type":"quantitative","scale":{"domain":[-0.136,7.64],"nice":false,"zero":false},"axis":null},"y2":{"datum":0.3}}},
 {"data":{"name":"pl"},"transform":[{"filter":"datum.p==6"}],"mark":{"type":"text","font":"DejaVu Sans","fontSize":14,"color":"#ff3030","baseline":"bottom","dy":3},
  "encoding":{"x":{"field":"t","type":"quantitative","scale":{"domain":[4.124,7.892],"nice":false,"zero":false},"axis":null},
   "y":{"field":"v","type":"quantitative","scale":{"domain":[-0.136,7.64],"nice":false,"zero":false},"axis":null},"text":{"field":"label"}}},
 {"data":{"name":"ann"},"transform":[{"filter":"datum.p==6"}],"mark":{"type":"text","font":"Liberation Serif","fontSize":34,"color":"#111111"},
  "encoding":{"x":{"field":"t","type":"quantitative","scale":{"domain":[4.124,7.892],"nice":false,"zero":false},"axis":{"orient":"top","title":"Cpd 2: 2-bromoethanol 6.345: +EI MRM CID@10.0 (124.0 -> 44.0) CE_STD.D"}},
   "y":{"field":"v","type":"quantitative","scale":{"domain":[-0.136,7.64],"nice":false,"zero":false},"axis":null},"text":{"field":"label"}}}
]},
{"width":972,"height":114,"resolve":{"axis":{"x":"independent","y":"independent"}},"layer":[
 {"data":{"name":"s7"},"mark":{"type":"line","color":"#ff5c5c","strokeWidth":1.3,"interpolate":"monotone","clip":true},
  "encoding":{"x":{"field":"t","type":"quantitative","scale":{"domain":[4.124,7.892],"nice":false,"zero":false},"axis":{"orient":"bottom","values":[4.2,4.4,4.6,4.8,5,5.2,5.4,5.6,5.8,6,6.2,6.4,6.6,6.8,7,7.2,7.4,7.6,7.8],"format":".1~f","title":"Counts vs. Acquisition Time (min)"}},
   "y":{"field":"v","type":"quantitative","scale":{"domain":[-0.18,9.88],"nice":false,"zero":false},"axis":{"title":"x10 ²","values":[0,2.5,5,7.5],"format":".1~f"}}}},
 {"data":{"name":"s7"},"transform":[{"filter":"datum.f==1"}],"mark":{"type":"area","fill":"#ffb3b3","stroke":"#ff3030","strokeWidth":1.2,"interpolate":"monotone","clip":true},
  "encoding":{"x":{"field":"t","type":"quantitative","scale":{"domain":[4.124,7.892],"nice":false,"zero":false},"axis":null},
   "y":{"field":"v","type":"quantitative","scale":{"domain":[-0.18,9.88],"nice":false,"zero":false},"axis":null},"y2":{"datum":0.25}}},
 {"data":{"name":"pl"},"transform":[{"filter":"datum.p==7"}],"mark":{"type":"text","font":"DejaVu Sans","fontSize":14,"color":"#ff3030","baseline":"bottom","dy":3},
  "encoding":{"x":{"field":"t","type":"quantitative","scale":{"domain":[4.124,7.892],"nice":false,"zero":false},"axis":null},
   "y":{"field":"v","type":"quantitative","scale":{"domain":[-0.18,9.88],"nice":false,"zero":false},"axis":null},"text":{"field":"label"}}},
 {"data":{"name":"ann"},"transform":[{"filter":"datum.p==7"}],"mark":{"type":"text","font":"Liberation Serif","fontSize":34,"color":"#111111"},
  "encoding":{"x":{"field":"t","type":"quantitative","scale":{"domain":[4.124,7.892],"nice":false,"zero":false},"axis":{"orient":"top","title":"Cpd 2: 2-bromoethanol 6.345: +EI MRM CID@10.0 (124.0 -> 45.0) CE_STD.D"}},
   "y":{"field":"v","type":"quantitative","scale":{"domain":[-0.18,9.88],"nice":false,"zero":false},"axis":null},"text":{"field":"label"}}}
]}
]
}
